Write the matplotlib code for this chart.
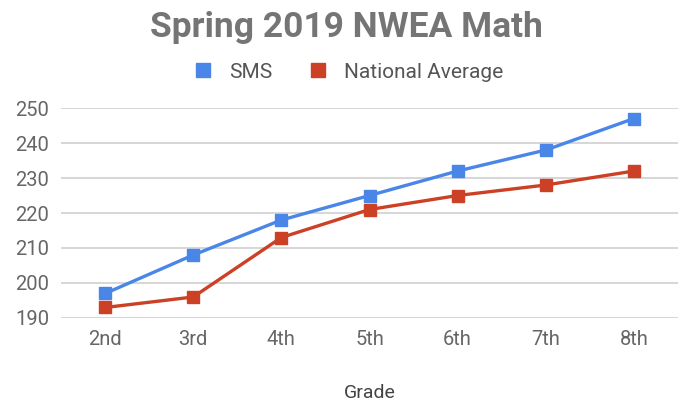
import matplotlib
matplotlib.use("Agg")
import matplotlib.pyplot as plt
from matplotlib.lines import Line2D

grades = ["2nd", "3rd", "4th", "5th", "6th", "7th", "8th"]
sms = [197, 208, 218, 225, 232, 238, 247]
national = [193, 196, 213, 221, 225, 228, 232]
y_ticks = [190, 200, 210, 220, 230, 240, 250]

BLUE = "#4a86e8"
RED = "#cc4125"
GRID = "#cccccc"
TEXT = "#666666"

plt.rcParams["font.family"] = ["Roboto", "DejaVu Sans"]

fig = plt.figure(figsize=(6.88, 4.07), dpi=100)
ax = fig.add_axes([0.0887, 0.2187, 0.8968, 0.5159])

x = range(len(grades))
ax.plot(x, sms, color=BLUE, lw=2.4, marker="s", ms=8.5, clip_on=False, zorder=3)
ax.plot(x, national, color=RED, lw=2.4, marker="s", ms=8.5, clip_on=False, zorder=3)

ax.set_xlim(-0.5, len(grades) - 0.5)
ax.set_ylim(190, 250)
ax.set_yticks(y_ticks)
ax.set_xticks(list(x))
ax.set_xticklabels(grades)
ax.grid(axis="y", color=GRID, lw=1.1)
ax.set_axisbelow(True)
for s in ax.spines.values():
    s.set_visible(False)
ax.tick_params(length=0, labelsize=14.5, colors=TEXT)
ax.tick_params(axis="y", pad=8.5)
ax.tick_params(axis="x", pad=9)
ax.set_xlabel("Grade", fontsize=14, color="#444444", labelpad=25)

fig.text(0.503, 0.909, "Spring 2019 NWEA Math", ha="center", va="baseline",
         fontsize=25.5, fontweight="bold", color="#757575")

handles = [
    Line2D([], [], color=BLUE, marker="s", ls="none", ms=10),
    Line2D([], [], color=RED, marker="s", ls="none", ms=10),
]
fig.legend(handles, ["SMS", "National Average"], loc="center",
           bbox_to_anchor=(0.506, 0.823), ncol=2, frameon=False,
           fontsize=15, labelcolor="#555555", handletextpad=0.75,
           columnspacing=1.7, handlelength=1.0)

fig.savefig("out.png", dpi=100)
